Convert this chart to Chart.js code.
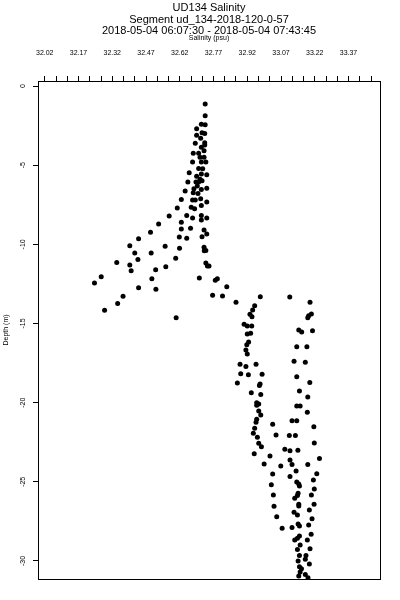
<!DOCTYPE html>
<html>
<head>
<meta charset="utf-8">
<script src="https://cdn.jsdelivr.net/npm/chart.js@4.4.0/dist/chart.umd.min.js"></script>
<style>
  html, body { margin: 0; padding: 0; background: #fff; }
  #wrap { width: 400px; height: 600px; }
</style>
</head>
<body>
<div id="wrap"><canvas id="myChart"></canvas></div>
<script>
let salinity = [
  32.733, 32.733, 32.716, 32.733, 32.695, 32.719, 32.731, 32.695, 32.713, 32.731,
  32.731, 32.689, 32.716, 32.728, 32.680, 32.704, 32.710, 32.728, 32.677, 32.716,
  32.736, 32.704, 32.722, 32.662, 32.716, 32.740, 32.695, 32.710, 32.656, 32.692,
  32.704, 32.719, 32.698, 32.683, 32.716, 32.740, 32.644, 32.680, 32.701, 32.627,
  32.677, 32.689, 32.713, 32.740, 32.716, 32.609, 32.671, 32.686, 32.573, 32.651,
  32.716, 32.677, 32.716, 32.740, 32.526, 32.627, 32.627, 32.668, 32.728, 32.740,
  32.490, 32.437, 32.618, 32.651, 32.719, 32.398, 32.555, 32.619, 32.728, 32.729,
  32.736, 32.420, 32.493, 32.434, 32.602, 32.340, 32.398, 32.404, 32.513, 32.558,
  32.736, 32.743, 32.750, 32.271, 32.241, 32.496, 32.707, 32.778, 32.787, 32.437,
  32.514, 32.829, 32.368, 32.344, 32.766, 32.810, 32.286, 32.604, 32.870, 32.978,
  33.109, 33.199, 32.953, 32.944, 32.932, 32.941, 33.205, 33.193, 33.189, 32.906,
  32.920, 32.940, 33.149, 33.162, 33.210, 32.920, 32.935, 32.926, 32.918, 33.140,
  33.185, 32.914, 32.920, 33.128, 33.178, 32.888, 32.914, 32.959, 32.891, 32.925,
  32.986, 33.140, 32.876, 32.974, 32.977, 33.198, 32.938, 32.980, 33.152, 33.189,
  32.962, 32.971, 32.962, 33.140, 33.155, 32.971, 32.980, 33.187, 32.962, 32.959,
  33.119, 33.140, 33.033, 33.216, 32.953, 32.947, 32.965, 33.048, 33.107, 33.134,
  32.971, 32.983, 33.218, 33.087, 33.110, 33.145, 32.951, 33.021, 33.241, 33.110,
  33.119, 32.995, 33.069, 33.189, 33.137, 33.033, 33.229, 33.110, 33.140, 33.149,
  33.152, 33.214, 33.027, 33.218, 33.036, 33.146, 33.143, 33.205, 33.131, 33.149,
  33.149, 33.217, 33.039, 33.196, 33.128, 33.143, 33.051, 33.208, 33.146, 33.152,
  33.193, 33.075, 33.119, 33.152, 33.143, 33.131, 33.204, 33.187, 33.155, 33.143,
  33.199, 33.152, 33.181, 33.146, 33.178, 33.196, 33.152, 33.161, 33.155, 33.178,
  33.190, 33.149
];

let depth = [
  -1.14, -1.88, -2.42, -2.44, -2.70, -2.95, -2.99, -3.10, -3.30, -3.58,
  -3.73, -3.62, -3.87, -4.09, -4.25, -4.25, -4.50, -4.50, -4.80, -4.80,
  -4.80, -5.20, -5.22, -5.48, -5.56, -5.60, -5.69, -5.89, -6.06, -6.06,
  -6.06, -5.98, -6.32, -6.49, -6.53, -6.46, -6.63, -6.74, -6.78, -7.16,
  -7.20, -7.20, -7.12, -7.33, -7.54, -7.71, -7.66, -7.75, -8.21, -8.17,
  -8.17, -8.34, -8.46, -8.34, -8.72, -8.61, -9.03, -8.98, -9.10, -9.35,
  -9.24, -9.65, -9.53, -9.61, -9.52, -10.09, -10.12, -10.25, -10.18, -10.40,
  -10.39, -10.54, -10.55, -10.95, -10.88, -11.14, -11.31, -11.67, -11.60, -11.42,
  -11.18, -11.36, -11.37, -12.05, -12.44, -12.18, -12.12, -12.27, -12.17, -12.74,
  -12.84, -12.67, -13.28, -13.73, -13.22, -13.27, -14.17, -14.64, -13.66, -13.31,
  -13.33, -13.66, -13.88, -14.15, -14.42, -14.57, -14.40, -14.51, -14.64, -15.05,
  -15.16, -15.16, -15.41, -15.54, -15.46, -15.67, -15.62, -16.17, -16.34, -16.47,
  -16.47, -16.68, -16.93, -17.39, -17.44, -17.58, -17.71, -17.58, -18.17, -18.24,
  -18.21, -18.36, -18.76, -18.91, -18.82, -18.72, -19.37, -19.48, -19.27, -19.65,
  -20.01, -20.09, -20.17, -20.21, -20.21, -20.53, -20.78, -20.61, -21.05, -21.23,
  -21.14, -21.14, -21.37, -21.52, -21.62, -21.94, -22.19, -22.05, -22.07, -22.07,
  -22.57, -22.79, -22.55, -22.95, -23.04, -23.00, -23.23, -23.37, -23.52, -23.63,
  -23.90, -23.88, -24.00, -23.90, -24.32, -24.51, -24.49, -24.66, -25.02, -25.14,
  -25.27, -24.89, -25.19, -25.46, -25.84, -25.73, -25.86, -25.84, -26.04, -26.41,
  -26.53, -26.42, -26.55, -26.78, -26.93, -27.10, -27.21, -27.33, -27.67, -27.79,
  -27.73, -27.94, -27.88, -28.43, -28.57, -28.68, -28.32, -28.68, -28.99, -29.27,
  -29.23, -29.65, -29.65, -30.01, -29.90, -30.20, -30.37, -30.49, -30.70, -30.85,
  -31.06, -30.95
];

// top axis: a tick every 0.05, a label every 0.15
let xTicks = [
  32.02, 32.07, 32.12, 32.17, 32.22, 32.27, 32.32, 32.37, 32.42, 32.47,
  32.52, 32.57, 32.62, 32.67, 32.72, 32.77, 32.82, 32.87, 32.92, 32.97,
  33.02, 33.07, 33.12, 33.17, 33.22, 33.27, 33.32, 33.37, 33.42, 33.47
];
let xLabels = ["32.02", "32.17", "32.32", "32.47", "32.62", "32.77", "32.92", "33.07", "33.22", "33.37"];
let yTicks = [0, -5, -10, -15, -20, -25, -30];

let titleLines = [
  "UD134 Salinity",
  "Segment ud_134-2018-120-0-57",
  "2018-05-04 06:07:30 - 2018-05-04 07:43:45"
];

Chart.defaults.font.family = "'Liberation Sans', Arial, Helvetica, sans-serif";
Chart.defaults.color = "#000";

let frame = {
  id: "frame",
  afterDraw(chart) {
    let a = chart.chartArea;
    let c = chart.ctx;
    c.save();
    c.strokeStyle = "#000";
    c.lineWidth = 1;
    c.strokeRect(Math.round(a.left) + 0.5, Math.round(a.top) + 0.5,
      Math.round(a.right - a.left), Math.round(a.bottom - a.top));
    c.restore();
  },
};

let ctx = document.getElementById("myChart").getContext("2d");

let myChart = new Chart(ctx, {
  type: "scatter",
  data: {
    datasets: [
      {
        label: "Salinity",
        data: salinity.map((s, i) => ({ x: s, y: depth[i] })),
        pointRadius: 2.5,
        pointBorderWidth: 0,
        pointBackgroundColor: "#000",
        pointBorderColor: "#000",
        showLine: false,
      },
    ],
  },
  options: {
    responsive: true,
    maintainAspectRatio: false,
    animation: false,
    events: [],
    layout: {
      padding: { left: 0, right: 20, top: 0, bottom: 21 },
    },
    plugins: {
      legend: { display: false },
      tooltip: { enabled: false },
      title: {
        display: true,
        fullSize: false,
        text: titleLines,
        font: { size: 11, lineHeight: 1.05, weight: "normal" },
        padding: { top: 2.5, bottom: 0 },
      },
    },
    scales: {
      x: {
        type: "linear",
        position: "top",
        min: 31.99,
        max: 33.51,
        afterBuildTicks: (scale) => {
          scale.ticks = xTicks.map((v) => ({ value: v }));
        },
        afterFit: (scale) => {
          scale.height = 43.85;
        },
        ticks: {
          autoSkip: false,
          maxRotation: 0,
          padding: 19,
          font: { size: 7 },
          callback: (v) => {
            let t = Number(v).toFixed(2);
            return xLabels.includes(t) ? t : "";
          },
        },
        grid: {
          drawOnChartArea: false,
          drawTicks: true,
          tickLength: 5,
          color: "#000",
        },
        border: { display: false },
        title: {
          display: true,
          text: "Salinity (psu)",
          font: { size: 7 },
          padding: { top: -3, bottom: 0 },
        },
      },
      y: {
        type: "linear",
        position: "left",
        min: -31.14,
        max: 0.32,
        afterBuildTicks: (scale) => {
          scale.ticks = yTicks.map((v) => ({ value: v }));
        },
        afterFit: (scale) => {
          scale.width = 38;
        },
        ticks: {
          autoSkip: false,
          minRotation: 90,
          maxRotation: 90,
          crossAlign: "center",
          padding: 5,
          font: { size: 7 },
        },
        grid: {
          drawOnChartArea: false,
          drawTicks: true,
          tickLength: 5,
          color: "#000",
        },
        border: { display: false },
        title: {
          display: true,
          text: "Depth (m)",
          font: { size: 7 },
          padding: { top: 2, bottom: 0 },
        },
      },
    },
  },
  plugins: [frame],
});
</script>
</body>
</html>
